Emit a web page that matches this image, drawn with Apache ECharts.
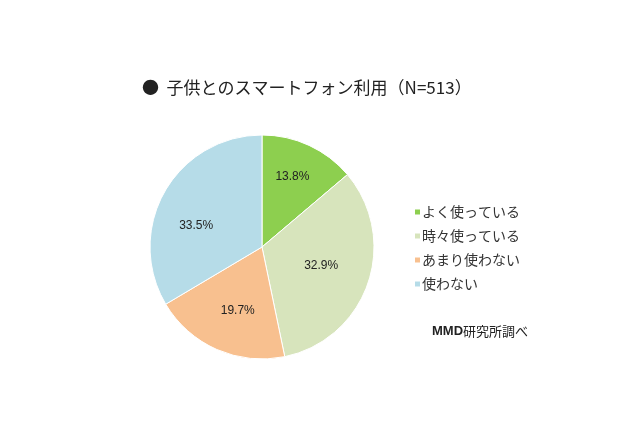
<!DOCTYPE html>
<html><head><meta charset="utf-8">
<script src="https://cdn.jsdelivr.net/npm/echarts@6/dist/echarts.min.js"></script>
<style>html,body{margin:0;padding:0;background:#fff}#c{width:640px;height:426px}</style>
</head><body><div id="c"></div>
<script>
const categories = ['よく使っている','時々使っている','あまり使わない','使わない'];
const values = [13.8, 32.9, 19.7, 33.5];
const colors = ['#8dcf4f','#d7e4bc','#f8c08f','#b6dce8'];
const titleText = '●  子供とのスマートフォン利用（N=513）';
const sourceText = 'MMD研究所調べ';

const labelOffsets = [[1,-7],[-7,-4],[4,0],[-5,13]];
const data = categories.map((n,i)=>({name:n, value:values[i], itemStyle:{color:colors[i]}}));
const chart = echarts.init(document.getElementById('c'));
chart.setOption({
  animation:false,
  title:{text:titleText, left:137, top:74, textStyle:{fontFamily:'Noto Sans CJK JP', fontSize:17, fontWeight:'normal', color:'#222'}},
  legend:{orient:'vertical', left:408, top:200, icon:'rect', itemWidth:7, itemHeight:7, itemGap:10,
    data:categories, textStyle:{fontFamily:'Noto Sans CJK JP', fontSize:14, color:'#333', padding:[0,0,0,-4]}},
  graphic:[{type:'text', left:432, top:325, style:{rich:{a:{fontFamily:'Arial', fontWeight:'bold', fontSize:13, fill:'#222'}, b:{fontFamily:'Noto Sans CJK JP', fontSize:13, fill:'#222'}}, text:'{a|MMD}{b|研究所調べ}'}}],
  series:[
    {type:'pie', center:[262,247], radius:112, startAngle:90, clockwise:true, silent:true,
      data:data, itemStyle:{borderColor:'#fff', borderWidth:1}, label:{show:false}, labelLine:{show:false}},
    {type:'pie', center:[262,247], radius:134, startAngle:90, clockwise:true, silent:true,
      data:categories.map((n,i)=>({name:n, value:values[i], label:{offset:labelOffsets[i]}})), itemStyle:{color:'rgba(0,0,0,0)'},
      label:{show:true, position:'inside', formatter:p=>p.value.toFixed(1)+'%', fontFamily:'Liberation Sans', fontSize:12, color:'#222'},
      labelLine:{show:false}}
  ]
});
</script></body></html>
